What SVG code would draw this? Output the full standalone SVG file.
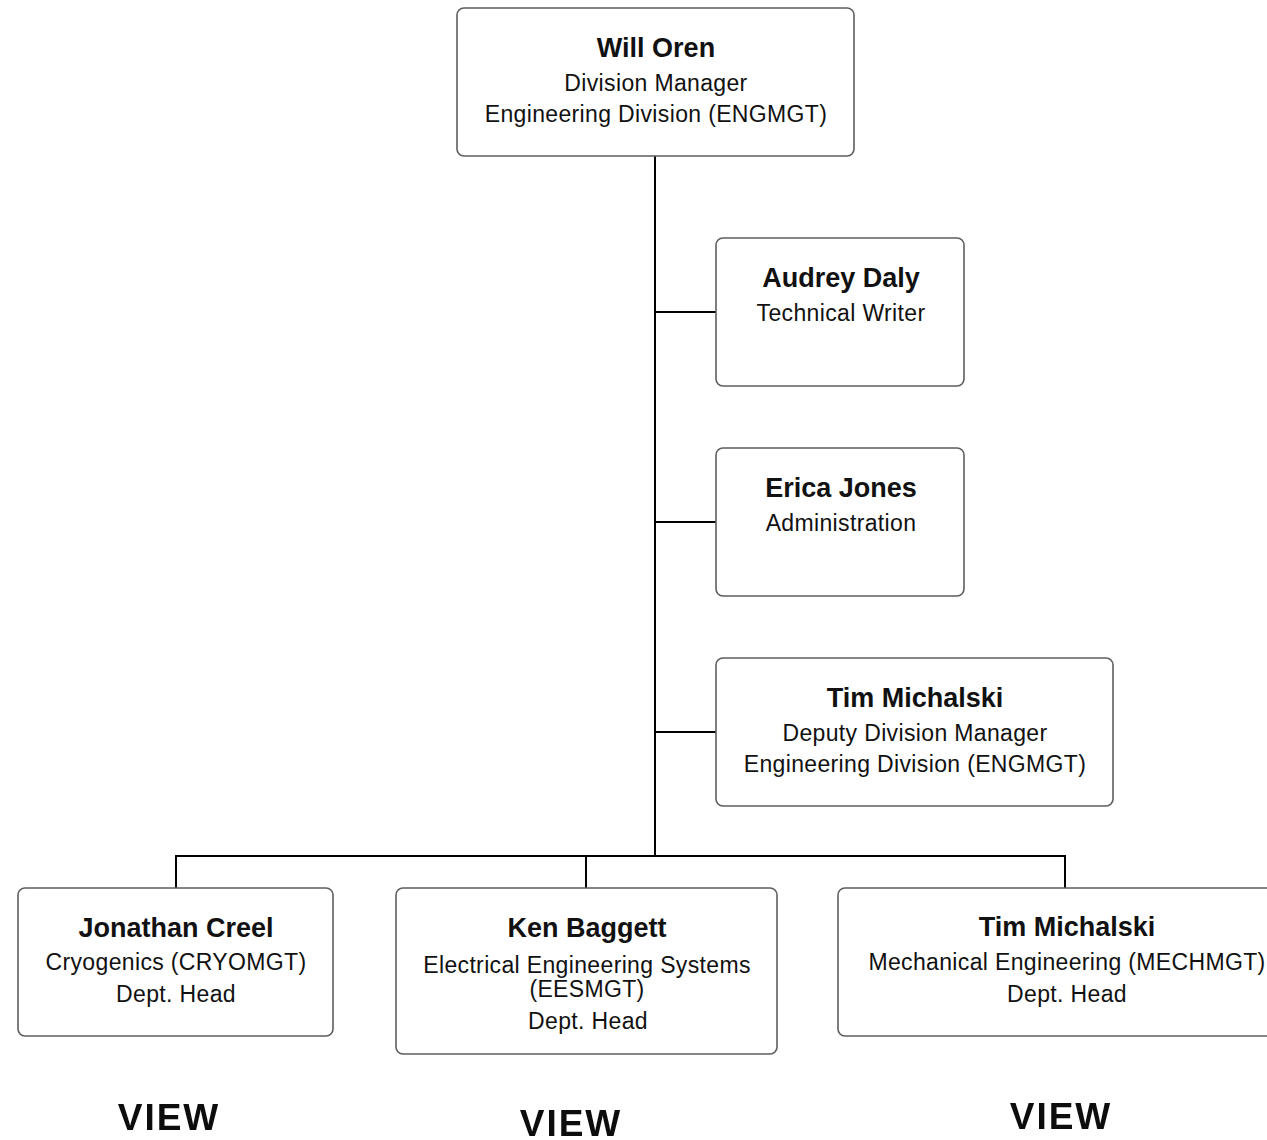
<svg xmlns="http://www.w3.org/2000/svg" width="1267" height="1140" viewBox="0 0 1267 1140">
<defs>
<style>
.box{fill:#fff;stroke:#5e5e5e;stroke-width:1.6}
.nm{font-family:"Liberation Sans",Arial,sans-serif;font-weight:bold;font-size:27px;fill:#111;text-anchor:middle}
.t{font-family:"Liberation Sans",Arial,sans-serif;font-size:23px;letter-spacing:0.35px;fill:#111;text-anchor:middle}
.v{font-family:"Liberation Sans",Arial,sans-serif;font-weight:bold;font-size:37px;letter-spacing:2px;fill:#111;text-anchor:middle}
.ln{fill:none;stroke:#000;stroke-width:2}
</style>
<filter id="bl" x="-10%" y="-20%" width="120%" height="140%"><feGaussianBlur stdDeviation="0.7"/></filter>
</defs>
<rect width="1267" height="1140" fill="#fff"/>
<g id="connectors">
<path class="ln" d="M655 156V856"/>
<path class="ln" d="M655 312H716M655 522H716M655 732H716"/>
<path class="ln" d="M176 888V856H1065V888M586 856V888"/>
</g>
<g id="will-oren">
<rect class="box" x="457" y="8" width="397" height="148" rx="7"/>
<text class="nm" x="656" y="57">Will Oren</text>
<text class="t" x="656" y="91">Division Manager</text>
<text class="t" x="656" y="122">Engineering Division (ENGMGT)</text>
</g>
<g id="audrey-daly">
<rect class="box" x="716" y="238" width="248" height="148" rx="7"/>
<text class="nm" x="841" y="287">Audrey Daly</text>
<text class="t" x="841" y="321">Technical Writer</text>
</g>
<g id="erica-jones">
<rect class="box" x="716" y="448" width="248" height="148" rx="7"/>
<text class="nm" x="841" y="497">Erica Jones</text>
<text class="t" x="841" y="531">Administration</text>
</g>
<g id="tim-michalski-deputy">
<rect class="box" x="716" y="658" width="397" height="148" rx="7"/>
<text class="nm" x="915" y="707">Tim Michalski</text>
<text class="t" x="915" y="741">Deputy Division Manager</text>
<text class="t" x="915" y="772">Engineering Division (ENGMGT)</text>
</g>
<g id="jonathan-creel">
<rect class="box" x="18" y="888" width="315" height="148" rx="7"/>
<text class="nm" x="176" y="937">Jonathan Creel</text>
<text class="t" x="176" y="970">Cryogenics (CRYOMGT)</text>
<text class="t" x="176" y="1002">Dept. Head</text>
</g>
<g id="ken-baggett">
<rect class="box" x="396" y="888" width="381" height="166" rx="7"/>
<text class="nm" x="587" y="937">Ken Baggett</text>
<text class="t" x="587" y="973">Electrical Engineering Systems</text>
<text class="t" x="587" y="997">(EESMGT)</text>
<text class="t" x="588" y="1029">Dept. Head</text>
</g>
<g id="tim-michalski-mech">
<rect class="box" x="838" y="888" width="458" height="148" rx="7"/>
<text class="nm" x="1067" y="936">Tim Michalski</text>
<text class="t" x="1067" y="970">Mechanical Engineering (MECHMGT)</text>
<text class="t" x="1067" y="1002">Dept. Head</text>
</g>
<g id="view-links" filter="url(#bl)">
<text class="v" x="169" y="1130">VIEW</text>
<text class="v" x="571" y="1136">VIEW</text>
<text class="v" x="1061" y="1129">VIEW</text>
</g>
</svg>
